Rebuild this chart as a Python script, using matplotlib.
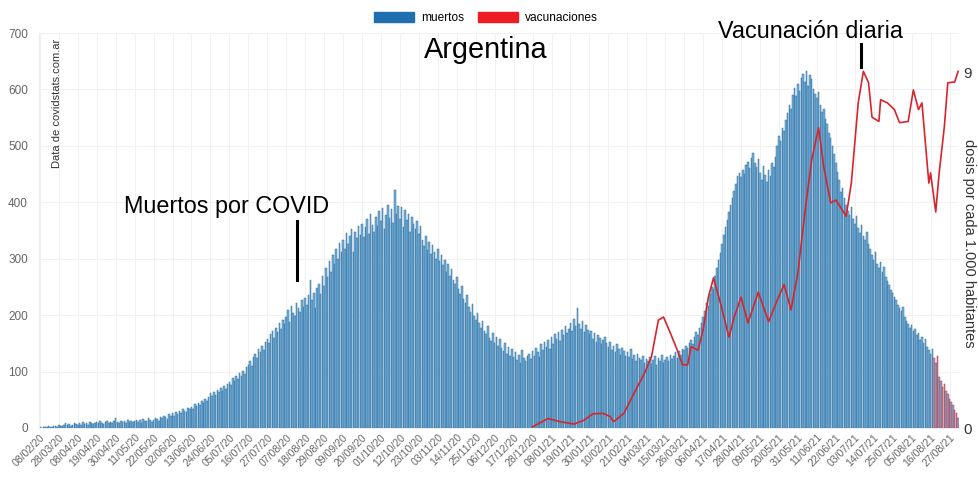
import pandas as pd
import matplotlib.pyplot as plt

plt.rcParams['font.family'] = ['Liberation Sans', 'DejaVu Sans']

# ------------------------- #
# Datos
# ------------------------- #

# primera fecha aislada + serie diaria desde 18/03/20 hasta 01/09/21
fechas = ['08/02/20'] + [d.strftime('%d/%m/%y')
                         for d in pd.date_range('2020-03-18', '2021-09-01')]

muertos = [
    1, 0, 1, 2, 1, 3, 2, 1, 4, 3, 2,
    5, 3, 4, 6, 8, 5, 7, 4, 6, 9, 7,
    6, 8, 5, 10, 7, 9, 6, 11, 8, 7, 9,
    10, 8, 12, 9, 7, 11, 13, 8, 10, 9, 12,
    18, 11, 9, 13, 10, 12, 8, 14, 11, 13, 10,
    12, 15, 11, 14, 9, 16, 13, 12, 17, 14, 11,
    14, 18, 16, 13, 20, 17, 22, 19, 16, 24, 21,
    26, 22, 29, 25, 31, 27, 34, 30, 28, 36, 33,
    38, 34, 42, 39, 45, 41, 48, 44, 52, 47, 55,
    62, 56, 64, 59, 68, 63, 71, 66, 74, 70, 78,
    82, 76, 88, 84, 92, 86, 97, 93, 101, 96, 108,
    112, 118, 110, 126, 132, 124, 140, 135, 146, 138, 152,
    158, 150, 166, 172, 160, 178, 170, 186, 176, 192, 184,
    196, 210, 188, 216, 204, 198, 222, 212, 206, 226, 214,
    230, 218, 236, 262, 226, 240, 212, 248, 256, 238, 270,
    252, 284, 268, 296, 276, 306, 290, 318, 300, 328, 312,
    334, 318, 346, 326, 340, 352, 312, 348, 336, 358, 342,
    362, 338, 356, 370, 344, 380, 360, 348, 374, 358, 384,
    366, 390, 352, 378, 396, 372, 388, 364, 422, 380, 394,
    370, 392, 356, 386, 368, 380, 348, 374, 362, 352, 366,
    344, 358, 334, 322, 340, 316, 330, 308, 324, 312, 300,
    318, 296, 306, 288, 298, 276, 290, 270, 282, 262, 256,
    268, 246, 238, 252, 228, 222, 236, 214, 206, 220, 198,
    192, 204, 186, 178, 190, 172, 166, 180, 160, 154, 168,
    150, 162, 146, 158, 142, 136, 150, 132, 144, 128, 140,
    126, 134, 120, 130, 116, 138, 124, 118, 128, 132, 122,
    136, 128, 142, 134, 126, 148, 138, 152, 144, 156, 140,
    162, 148, 166, 158, 170, 154, 174, 164, 180, 168, 176,
    186, 172, 194, 180, 212, 184, 176, 190, 170, 182, 174,
    166, 172, 158, 168, 152, 164, 160, 148, 156, 162, 150,
    144, 152, 138, 146, 134, 148, 140, 130, 142, 136, 128,
    134, 126, 140, 122, 130, 118, 132, 124, 120, 128, 116,
    122, 118, 126, 114, 120, 128, 112, 124, 118, 130, 116,
    120, 126, 118, 130, 122, 128, 134, 124, 136, 130, 140,
    138, 146, 142, 150, 156, 148, 162, 170, 164, 178, 186,
    196, 208, 222, 216, 238, 250, 246, 270, 284, 298, 310,
    326, 342, 356, 368, 382, 396, 408, 420, 432, 446, 452,
    444, 458, 450, 466, 472, 460, 478, 488, 470, 462, 476,
    452, 440, 464, 448, 436, 458, 446, 470, 462, 480, 500,
    518, 508, 532, 526, 546, 558, 572, 566, 590, 602, 588,
    610, 598, 620, 628, 614, 632, 606, 626, 618, 600, 592,
    584, 596, 572, 560, 566, 548, 538, 522, 514, 500, 486,
    470, 454, 440, 418, 426, 408, 396, 384, 378, 392, 370,
    362, 376, 354, 346, 360, 340, 334, 348, 326, 318, 306,
    298, 312, 290, 284, 294, 276, 286, 268, 260, 254, 244,
    240, 232, 226, 218, 212, 208, 214, 196, 190, 184, 178,
    182, 172, 176, 164, 168, 156, 162, 150, 158, 144, 138,
    132, 140, 124, 116, 128, 90, 84, 72, 78, 66, 60,
    52, 46, 40, 32, 26, 18,
]

# vacunación diaria (dosis por cada 1.000 habitantes)
vac_fechas = [
    '28/12/20', '06/01/21', '13/01/21', '21/01/21', '27/01/21', '01/02/21',
    '07/02/21', '11/02/21', '13/02/21', '19/02/21', '25/02/21', '03/03/21',
    '07/03/21', '11/03/21', '14/03/21', '18/03/21', '22/03/21', '25/03/21',
    '28/03/21', '30/03/21', '03/04/21', '06/04/21', '09/04/21', '12/04/21',
    '16/04/21', '21/04/21', '24/04/21', '28/04/21', '02/05/21', '08/05/21',
    '14/05/21', '19/05/21', '23/05/21', '27/05/21', '31/05/21', '04/06/21',
    '08/06/21', '12/06/21', '15/06/21', '19/06/21', '22/06/21', '25/06/21',
    '28/06/21', '01/07/21', '05/07/21', '08/07/21', '11/07/21', '13/07/21',
    '17/07/21', '18/07/21', '22/07/21', '26/07/21', '29/07/21', '03/08/21',
    '06/08/21', '09/08/21', '11/08/21', '15/08/21', '16/08/21', '19/08/21',
    '21/08/21', '24/08/21', '26/08/21', '30/08/21', '01/09/21',
]
vac_dosis = [
    0.03, 0.24, 0.16, 0.10, 0.20, 0.36,
    0.37, 0.29, 0.16, 0.37, 0.89, 1.39,
    1.80, 2.73, 2.81, 2.40, 1.97, 1.60,
    1.60, 2.06, 1.97, 2.49, 3.31, 3.80,
    3.17, 2.30, 2.81, 3.31, 2.66, 3.44,
    2.69, 3.24, 3.63, 2.99, 3.93, 5.44,
    6.79, 7.60, 6.61, 5.70, 5.77, 5.57,
    5.36, 6.20, 8.23, 9.03, 8.74, 7.87,
    7.76, 8.31, 8.23, 8.06, 7.73, 7.76,
    8.56, 8.06, 8.23, 6.20, 6.46, 5.47,
    6.46, 7.63, 8.74, 8.76, 9.03,
]

# ------------------------- #
# Gráfico
# ------------------------- #

fig = plt.figure(figsize=(9.79, 4.78), dpi=100)
ax = fig.add_axes([39 / 979, 1 - 428 / 478, 920 / 979, 395 / 478])

pos = list(range(len(fechas)))
bordes = ['#2a6d9f'] * len(fechas)
for i in range(len(fechas) - 15, len(fechas)):
    bordes[i] = '#d8242c'
ax.bar(pos, muertos, width=0.9, color='#7ab1d7', edgecolor=bordes,
       linewidth=0.35)

ax.set_xlim(-0.5, len(fechas) - 0.5)
ax.set_ylim(0, 700)
ax.set_yticks(range(0, 701, 100))
ax.set_xticks(pos[::11])
ax.set_xticklabels(fechas[::11], rotation=45, ha='right',
                   rotation_mode='anchor', fontsize=7.6, color='#666666')
ax.tick_params(axis='y', labelsize=8.5, labelcolor='#666666', length=0, pad=8)
ax.tick_params(axis='x', length=0, pad=3)
ax.grid(True, color='#f1f1f1', linewidth=0.8)
ax.set_axisbelow(True)
for s in ['top', 'right']:
    ax.spines[s].set_visible(False)
for s in ['left', 'bottom']:
    ax.spines[s].set_color('#eeeeee')

ax.text(0.02, 0.985, 'Data de covidstats.com.ar', transform=ax.transAxes,
        rotation=90, ha='center', va='top', fontsize=8, color='#333333')

# eje derecho: vacunación
ax2 = ax.twinx()
vac_pos = [fechas.index(f) for f in vac_fechas]
ax2.plot(vac_pos, vac_dosis, color='#d8242c', linewidth=1.2)
ax2.set_ylim(0, 10)
ax2.set_yticks([0, 9])
ax2.set_yticklabels(['0', '9'], fontsize=11, color='#333333')
ax2.tick_params(axis='y', length=0, pad=3)
for s in ax2.spines.values():
    s.set_visible(False)
fig.text(0.99, 0.49, 'dosis por cada 1.000 habitantes', rotation=270,
         ha='center', va='center', fontsize=10.5, color='#333333')

# título y anotaciones
fig.text(486 / 979, 1 - 50 / 478, 'Argentina', ha='center', va='center',
         fontsize=20.8, color='black')
fig.text(227 / 979, 1 - 207 / 478, 'Muertos por COVID', ha='center',
         va='center', fontsize=16.8, color='black')
fig.add_artist(plt.Line2D([297 / 979, 297 / 979],
                          [1 - 221 / 478, 1 - 280 / 478],
                          color='black', linewidth=2.2))
fig.text(811 / 979, 1 - 32 / 478, 'Vacunación diaria', ha='center',
         va='center', fontsize=16.8, color='black')
fig.add_artist(plt.Line2D([861 / 979, 861 / 979],
                          [1 - 44 / 478, 1 - 67 / 478],
                          color='black', linewidth=2.2))

# leyenda
h1 = plt.Rectangle((0, 0), 1, 1, color='#1f6fae')
h2 = plt.Rectangle((0, 0), 1, 1, color='#ee1c25')
fig.legend([h1, h2], ['muertos', 'vacunaciones'], loc='center',
           bbox_to_anchor=(486 / 979, 1 - 18 / 478), ncol=2, frameon=False,
           fontsize=8.6, handlelength=3.3, handleheight=0.9,
           columnspacing=1.2, handletextpad=0.6)

fig.savefig('out.png', dpi=100)
